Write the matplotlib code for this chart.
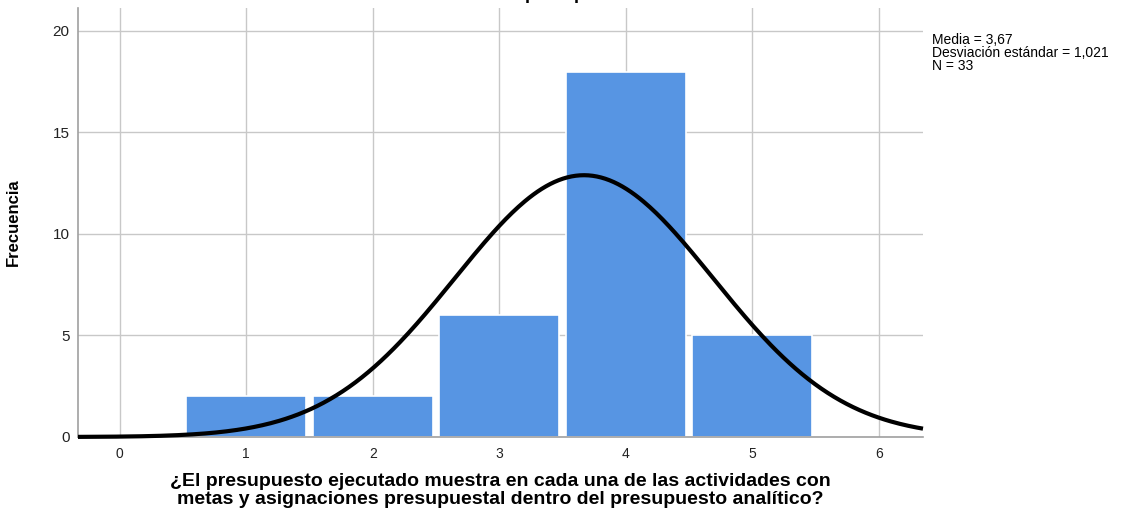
import numpy as np
import matplotlib
matplotlib.use("Agg")
import matplotlib.pyplot as plt

plt.rcParams['font.family'] = ['Liberation Sans', 'DejaVu Sans']

categories = [1, 2, 3, 4, 5]
counts = [2, 2, 6, 18, 5]
mean = 3.67
std = 1.021
n = 33
x_ticks = [0, 1, 2, 3, 4, 5, 6]
y_ticks = [0, 5, 10, 15, 20]
xlabel = "¿El presupuesto ejecutado muestra en cada una de las actividades con\nmetas y asignaciones presupuestal dentro del presupuesto analítico?"
title = "dentro del presupuesto analítico?"
stats_text = "Media = 3,67\nDesviación estándar = 1,021\nN = 33"

fig = plt.figure(figsize=(11.39, 5.14), dpi=100)
ax = fig.add_axes([78/1139, 1-437/514, (923-78)/1139, (437-8)/514])

ax.set_xlim(-0.33, 6.35)
ax.set_ylim(0, 21.13)
ax.set_axisbelow(True)
ax.grid(True, color='#c8c8c8', linewidth=1)

ax.bar(categories, counts, width=0.95, color='#5795e3', edgecolor='white', linewidth=1.2, zorder=2)

xs = np.linspace(-0.33, 6.35, 400)
ys = n * 1.0 / (std * np.sqrt(2*np.pi)) * np.exp(-0.5*((xs-mean)/std)**2)
ax.plot(xs, ys, color='black', linewidth=3, zorder=3, clip_on=False, solid_capstyle='butt')

ax.set_xticks(x_ticks)
ax.set_yticks(y_ticks)
ax.tick_params(length=0, colors='#222222')
ax.tick_params(axis='x', labelsize=10, pad=7)
ax.tick_params(axis='y', labelsize=11, pad=6)
for s in ['top', 'right']:
    ax.spines[s].set_visible(False)
for s in ['left', 'bottom']:
    ax.spines[s].set_color('#a0a0a0')
    ax.spines[s].set_linewidth(1.2)

ax.set_xlabel(xlabel, fontsize=14, fontweight='bold', linespacing=1.05)
ax.xaxis.set_label_coords(0.5, -(473-437)/429, transform=ax.transAxes)
ax.xaxis.label.set_va('top')
ax.set_ylabel("Frecuencia", fontsize=12, fontweight='bold')
ax.yaxis.set_label_coords((21-78)/845, 0.5)

fig.text(932/1139, 1-33/514, stats_text, fontsize=10, va='top', ha='left', linespacing=0.9)
fig.text(0.507, 1.0 + 1/514, title, fontsize=13, fontweight='bold', ha='center', va='baseline')

fig.savefig("out.png", dpi=100)
